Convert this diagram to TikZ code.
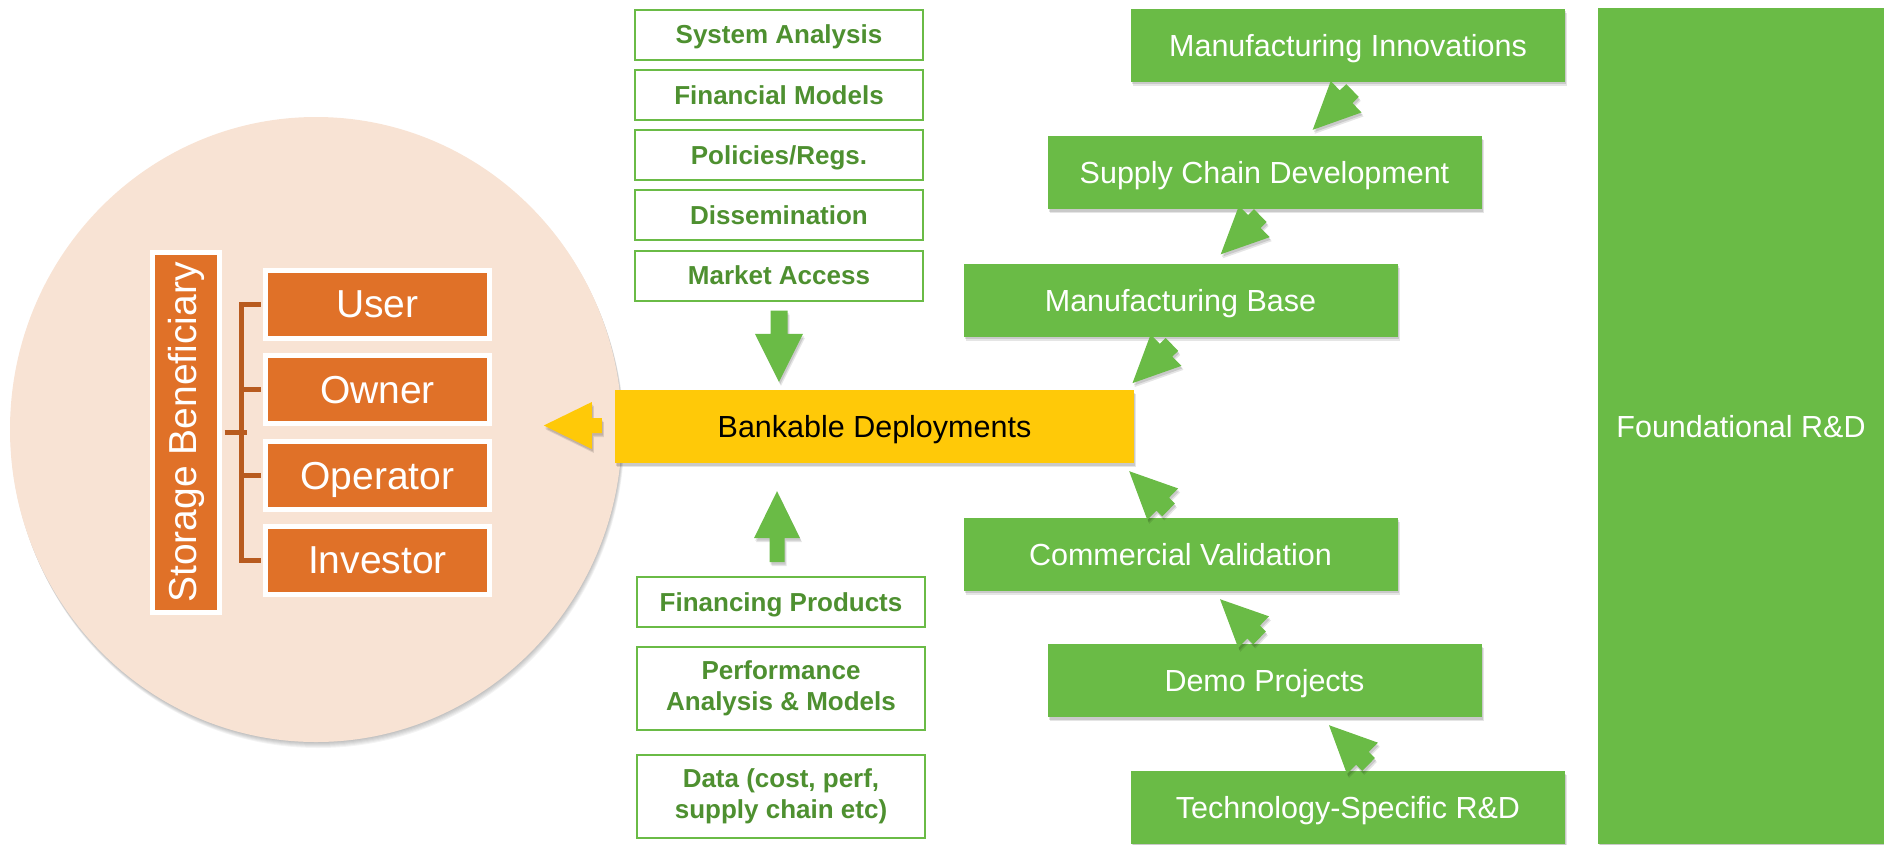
\documentclass[tikz,border=0pt]{standalone}
\usepackage{fontspec}
\setmainfont{Liberation Sans}
\usetikzlibrary{calc,shapes.geometric,shadows}

\definecolor{leaf}{RGB}{106,187,70}
\definecolor{leafdark}{RGB}{78,144,48}
\definecolor{gold}{RGB}{255,201,8}
\definecolor{rust}{RGB}{224,113,40}
\definecolor{rustdark}{RGB}{184,91,31}
\definecolor{peach}{RGB}{248,227,212}

% block arrow: style, start, tip, head length, head half width, stem half width
\newcommand\blockarrow[6]{%
  \path (#2) coordinate (ba-s) (#3) coordinate (ba-t);
  \coordinate (ba-b) at ($(ba-t)!#4!(ba-s)$);
  \fill[#1] ($(ba-s)!#6!90:(ba-t)$) -- ($(ba-b)!#6!90:(ba-t)$)
    -- ($(ba-b)!#5!90:(ba-t)$) -- (ba-t) -- ($(ba-b)!#5!-90:(ba-t)$)
    -- ($(ba-b)!#6!-90:(ba-t)$) -- ($(ba-s)!#6!-90:(ba-t)$) -- cycle;
}

\tikzset{
  boxshadow/.style={
      drop shadow={shadow xshift=2pt,shadow yshift=-4pt,fill=black,opacity=0.10},
      drop shadow={shadow xshift=1.2pt,shadow yshift=-2.5pt,fill=black,opacity=0.12}},
  stage/.style={rectangle,fill=leaf,text=white,minimum width=434pt,
      minimum height=73pt,inner sep=0pt,text depth=0pt,
      font=\fontsize{30.5}{36}\selectfont,boxshadow},
  tool/.style={rectangle,draw=leaf,line width=2pt,fill=white,text=leafdark,
      minimum width=288pt,minimum height=50pt,inner sep=0pt,align=center,
      font=\bfseries\fontsize{26}{31}\selectfont},
  onetool/.style={tool,text depth=0pt},
  role/.style={rectangle,fill=rust,draw=white,line width=5pt,text=white,
      minimum width=224pt,minimum height=68pt,inner sep=0pt,text depth=0pt,
      font=\fontsize{39}{44}\selectfont},
  link/.style={draw=rustdark,line width=4.5pt},
}

\begin{document}
\begin{tikzpicture}[x=1pt,y=-1pt]
\useasboundingbox (0,0) rectangle (1884,844);

% beneficiary disc with a soft shadow underneath
\foreach \d in {1,...,6}
  \fill[black,opacity=0.045] (316+0.4*\d,429.5+\d) ellipse [x radius=306pt,y radius=312.5pt];
\node[ellipse,fill=peach,minimum width=612pt,minimum height=625pt,
      inner sep=0pt] (ring) at (316,429.5) {};

% beneficiary roles
\node[rectangle,fill=rust,draw=white,line width=5pt,text=white,rotate=90,
      minimum width=360pt,minimum height=67pt,inner sep=0pt,
      font=\fontsize{39}{44}\selectfont] (benef) at (186,432.5) {Storage Beneficiary};
\node[role] (user)     at (377.5,304.5) {User};
\node[role] (owner)    at (377.5,389.5) {Owner};
\node[role] (operator) at (377.5,475.5) {Operator};
\node[role] (investor) at (377.5,560.5) {Investor};

% bracket joining the roles
\draw[link] ($(user.west)+(-2.5,0)$) -- ++(-19,0) |- ($(investor.west)+(-2.5,0)$);
\draw[link] ($(owner.west)+(-2.5,0)$) -- ++(-19,0);
\draw[link] ($(operator.west)+(-2.5,0)$) -- ++(-19,0);
\draw[link] ($(benef.south)+(2.5,0)$) -- ++(22,0);

% central deployment box
\node[rectangle,fill=gold,minimum width=519pt,minimum height=73pt,inner sep=0pt,
      text depth=0pt,font=\fontsize{30.5}{36}\selectfont,boxshadow] (bd) at (874.5,426.5) {Bankable Deployments};

% analysis tools above
\node[onetool] (sa) at (779,34.5)  {System Analysis};
\node[onetool] (fm) at (779,95)    {Financial Models};
\node[onetool] (pr) at (779,155)   {Policies/Regs.};
\node[onetool] (di) at (779,215)   {Dissemination};
\node[onetool] (ma) at (779,275.5) {Market Access};

% tools below
\node[onetool] (fp) at (781,602)   {Financing Products};
\node[tool,minimum height=83pt] (pa) at (781,688) {Performance\\Analysis \& Models};
\node[tool,minimum height=83pt] (dc) at (781,796) {Data (cost, perf,\\supply chain etc)};

% development stages
\node[stage] (mi) at (1348,45)     {Manufacturing Innovations};
\node[stage] (sc) at (1264.5,172.5){Supply Chain Development};
\node[stage] (mb) at (1180.5,300)  {Manufacturing Base};
\node[stage] (cv) at (1180.5,554)  {Commercial Validation};
\node[stage] (dp) at (1264.5,680.5){Demo Projects};
\node[stage] (ts) at (1348,807.5)  {Technology-Specific R\&D};
\node[stage,minimum width=286pt,minimum height=836pt] (fr) at (1741,426) {Foundational R\&D};

% block arrows
\blockarrow{fill=gold,boxshadow}{$(bd.west)+(-13,-1)$}{$(bd.west)+(-71,-1)$}{48pt}{23.5pt}{7.5pt}
\blockarrow{fill=leaf,boxshadow}{$(ma.south)+(0,9)$}{$(ma.south |- bd.north)+(0,-8)$}{48pt}{24pt}{8.5pt}
\blockarrow{fill=leaf,boxshadow}{$(fp.north)+(-4,-14)$}{$(fp.north |- bd.south)+(-4,28)$}{47pt}{23pt}{7.5pt}

\blockarrow{fill=leaf,boxshadow}{$(mi.south)+(4.5,8.8)$}{$(sc.north)+(48.2,-6)$}{47pt}{22pt}{9pt}
\blockarrow{fill=leaf,boxshadow}{$(sc.south)+(-4.2,6.4)$}{$(mb.north)+(40.2,-9)$}{47pt}{22pt}{9pt}
\blockarrow{fill=leaf,boxshadow}{$(mb.south)+(-8.6,7.7)$}{$(bd.north east)+(-1.7,-6.7)$}{47pt}{22pt}{9pt}
\blockarrow{fill=leaf,boxshadow}{$(cv.north)+(-11.9,-7.4)$}{$(bd.south east)+(-5,8)$}{47pt}{22pt}{9pt}
\blockarrow{fill=leaf,boxshadow}{$(dp.north)+(-4.9,-5.9)$}{$(cv.south)+(39.5,8.5)$}{47pt}{22pt}{9pt}
\blockarrow{fill=leaf,boxshadow}{$(ts.north)+(20.6,-6.4)$}{$(dp.south)+(64.5,8)$}{47pt}{22pt}{9pt}
\end{tikzpicture}
\end{document}
